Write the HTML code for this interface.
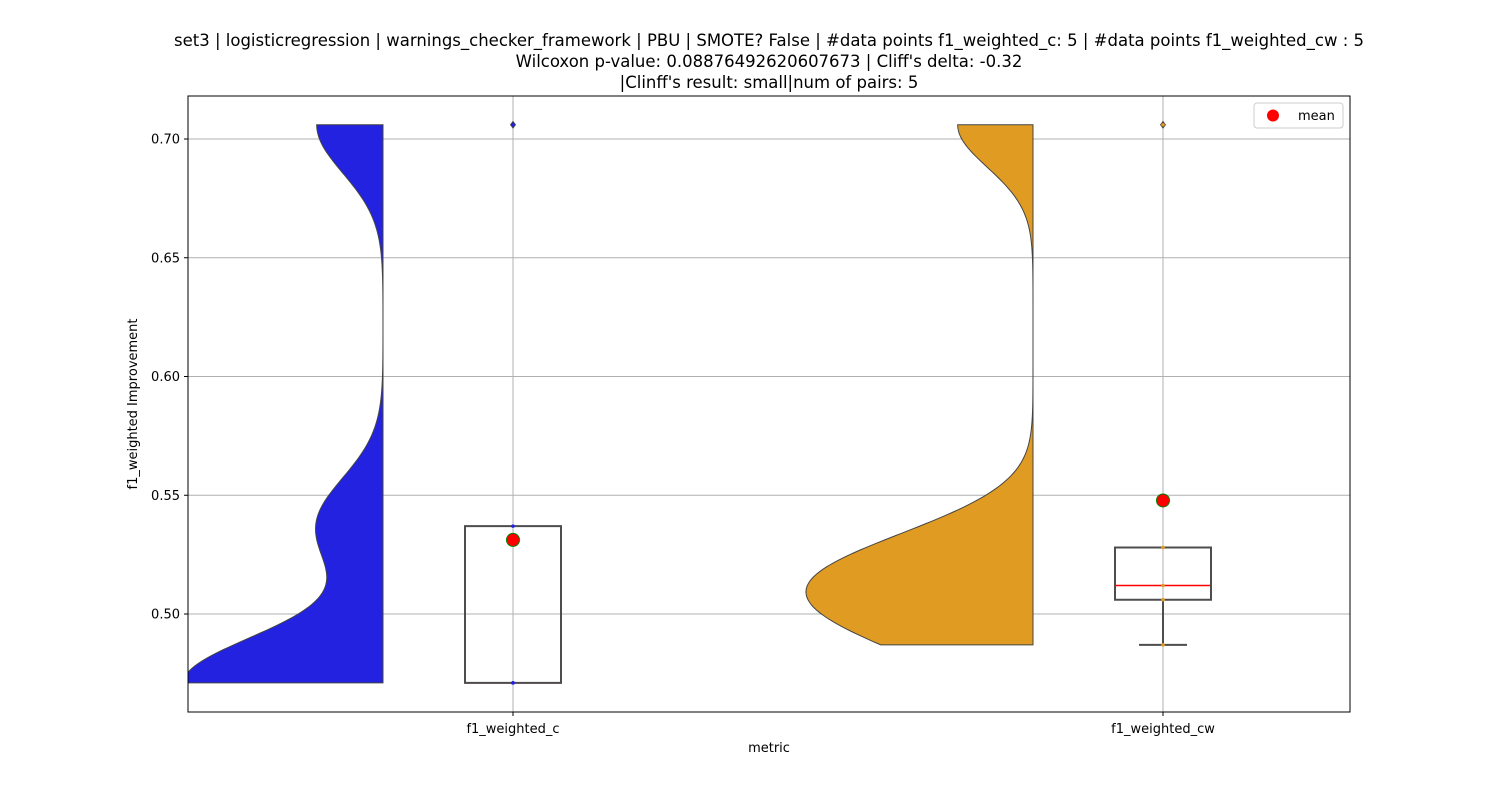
<!DOCTYPE html>
<html><head><meta charset="utf-8">
<style>
html,body{margin:0;padding:0;background:#fff;}
svg{display:block;font-family:"DejaVu Sans","Liberation Sans",sans-serif;}
</style></head>
<body>
<svg id="chart" width="1500" height="800" viewBox="0 0 1500 800">
  <g font-size="16.5" text-anchor="middle" fill="#000">
    <text x="769" y="46">set3 | logisticregression | warnings_checker_framework | PBU | SMOTE? False | #data points f1_weighted_c: 5 | #data points f1_weighted_cw : 5</text>
    <text x="769" y="67">Wilcoxon p-value: 0.08876492620607673 | Cliff's delta: -0.32</text>
    <text x="769" y="88">|Clinff's result: small|num of pairs: 5</text>
  </g>
  <defs><clipPath id="plotclip"><rect x="188" y="96" width="1162" height="616"/></clipPath></defs>
  <g id="grid"></g>
  <g id="violins" clip-path="url(#plotclip)"></g>
  <g id="boxes"></g>
  <rect x="188" y="96" width="1162" height="616" fill="none" stroke="#000" stroke-width="1"/>
  <g id="yticks" font-size="13"></g>
  <g id="xticks" font-size="13"></g>
  <text x="769" y="752" font-size="13" text-anchor="middle">metric</text>
  <text transform="translate(137,404) rotate(-90)" font-size="13" text-anchor="middle">f1_weighted Improvement</text>
  <g>
    <rect x="1254" y="103" width="89" height="25" rx="3" fill="#fff" stroke="#ccc" stroke-width="1"/>
    <circle cx="1273" cy="115.5" r="6" fill="red"/>
    <text x="1298" y="120" font-size="13">mean</text>
  </g>
</svg>
<script>
const categories = ["f1_weighted_c", "f1_weighted_cw"];
const seriesC = [0.471, 0.471, 0.471, 0.537, 0.706];
const seriesCW = [0.487, 0.506, 0.512, 0.528, 0.706];
const yTicks = [0.50, 0.55, 0.60, 0.65, 0.70];
const violinColors = ["#2222e0", "#e09c22"];

const NS = "http://www.w3.org/2000/svg";
function y(v){ return 614 - (v - 0.5) * 2375; }
function xc(i){ return 513 + i * 650; }
function mk(tag, attrs, parent){
  const e = document.createElementNS(NS, tag);
  for (const k in attrs) e.setAttribute(k, attrs[k]);
  parent.appendChild(e); return e;
}
const grid = document.getElementById('grid');
const yt = document.getElementById('yticks');
const xt = document.getElementById('xticks');
yTicks.forEach(v => {
  const g = mk('line', {x1:188, x2:1350, y1:y(v), y2:y(v), stroke:'#b0b0b0', 'stroke-width':1}, grid);
  
  
  mk('line', {x1:184, x2:188, y1:y(v), y2:y(v), stroke:'#000'}, yt);
  const t = mk('text', {x:180, y:y(v)+4.5, 'text-anchor':'end'}, yt);
  t.textContent = v.toFixed(2);
  
  
});
categories.forEach((c, i) => {
  const g = mk('line', {x1:xc(i), x2:xc(i), y1:96, y2:712, stroke:'#b0b0b0', 'stroke-width':1}, grid);
  
  
  mk('line', {x1:xc(i), x2:xc(i), y1:712, y2:716, stroke:'#000'}, xt);
  const t = mk('text', {x:xc(i), y:733, 'text-anchor':'middle'}, xt);
  t.textContent = c;
  
  
});

const all = [seriesC, seriesCW];
function kde(d){
  const n = d.length, m = d.reduce((a,b)=>a+b)/n;
  const sd = Math.sqrt(d.reduce((a,b)=>a+(b-m)*(b-m),0)/(n-1));
  const bw = sd * 0.2;
  const lo = Math.min(...d), hi = Math.max(...d), pts = [];
  for (let k=0;k<=300;k++){
    const v = lo + (hi-lo)*k/300;
    let s = 0; d.forEach(x => { const z=(v-x)/bw; s += Math.exp(-0.5*z*z); });
    pts.push([v, s/(n*bw)]);
  }
  return pts;
}
const dens = all.map(kde);
const maxCW = Math.max(...dens[1].map(p=>p[1]));
const scale = 227 / maxCW;
const vg = document.getElementById('violins');
dens.forEach((pts, i) => {
  const right = xc(i) - 130;
  let d = `M${right},${y(pts[0][0])}`;
  pts.forEach(p => { d += ` L${right - p[1]*scale},${y(p[0])}`; });
  d += ` L${right},${y(pts[pts.length-1][0])} Z`;
  const p = mk('path', {d, fill:violinColors[i], stroke:'#444', 'stroke-width':1}, vg);
  
  
});

function q(s, p){ const a=[...s].sort((x,y)=>x-y); const h=(a.length-1)*p, l=Math.floor(h); return a[l]+(a[Math.min(l+1,a.length-1)]-a[l])*(h-l); }
const bg = document.getElementById('boxes');
all.forEach((s, i) => {
  const x = xc(i), q1=q(s,0.25), q3=q(s,0.75), med=q(s,0.5), iqr=q3-q1;
  const inl = s.filter(v => v>=q1-1.5*iqr && v<=q3+1.5*iqr);
  const lo = Math.min(...inl), hi = Math.max(...inl);
  const hw = 48;
  if (lo < q1){ mk('line',{x1:x,x2:x,y1:y(q1),y2:y(lo),stroke:'#4d4d4d','stroke-width':2},bg); mk('line',{x1:x-24,x2:x+24,y1:y(lo),y2:y(lo),stroke:'#4d4d4d','stroke-width':2},bg); }
  if (hi > q3){ mk('line',{x1:x,x2:x,y1:y(q3),y2:y(hi),stroke:'#4d4d4d','stroke-width':2},bg); mk('line',{x1:x-24,x2:x+24,y1:y(hi),y2:y(hi),stroke:'#4d4d4d','stroke-width':2},bg); }
  mk('line',{x1:x-hw,x2:x+hw,y1:y(med),y2:y(med),stroke:'red','stroke-width':1.6},bg);
  const b = mk('rect',{x:x-hw,y:y(q3),width:2*hw,height:y(q1)-y(q3),fill:'none',stroke:'#4d4d4d','stroke-width':2},bg);
  
  
  s.filter(v => !inl.includes(v)).forEach(v => {
    const o = mk('path',{d:`M${x},${y(v)-4} L${x+3},${y(v)} L${x},${y(v)+4} L${x-3},${y(v)} Z`,fill:'#3d3d3d'},bg);
    
    
  });
  s.forEach(v => {
    const d = mk('circle',{cx:x,cy:y(v),r:1.8,fill:violinColors[i]},bg);
    
    
  });
  const mean = s.reduce((a,b)=>a+b)/s.length;
  const m = mk('circle',{cx:x,cy:y(mean),r:6.5,fill:'red',stroke:'green','stroke-width':1},bg);
  
  
});
</script>
</body></html>
